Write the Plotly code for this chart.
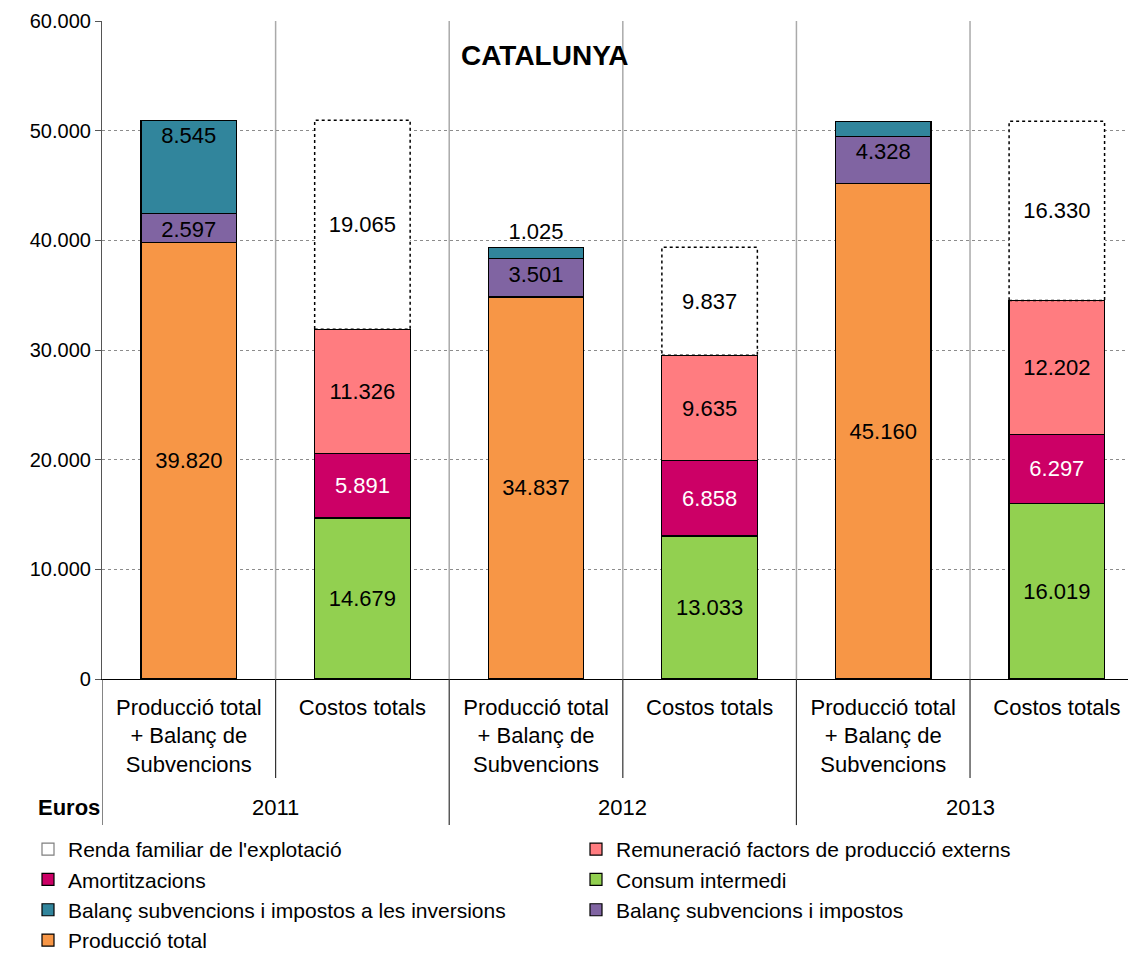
import plotly.graph_objects as go

years = ["2011", "2012", "2013"]
cat_prod = "Producció total<br>+ Balanç de<br>Subvencions"
cat_cost = "Costos totals"

produccio_total = [39820, 34837, 45160]
balanc_subv = [2597, 3501, 4328]
balanc_inv = [8545, 1025, 1360]
inv_label_pos = ["inside", "outside", "none"]

consum_intermedi = [14679, 13033, 16019]
amortitzacions = [5891, 6858, 6297]
remuneracio = [11326, 9635, 12202]
renda_familiar = [19065, 9837, 16330]

FONT = "Liberation Sans, Arial, sans-serif"
BAR_W = 0.55
LBL = 22
W, H = 1128, 946   # page body has an 8px offset in the browser

prod_x = [2 * i for i in range(len(years))]
cost_x = [2 * i + 1 for i in range(len(years))]


def fmt(v):
    return f"{v:,}".replace(",", ".")


fig = go.Figure()


def add_bar(name, xs, ys, color, rank, legend, textcolor="black",
            textpos="inside", anchor="middle", line=True, showlegend=True):
    fig.add_trace(go.Bar(
        name=name, x=xs, y=ys, width=BAR_W,
        marker=dict(color=color,
                    line=dict(color="black", width=1.2 if line else 0)),
        text=[fmt(v) for v in ys], textposition=textpos,
        insidetextanchor=anchor,
        textfont=dict(color=textcolor, size=LBL, family=FONT),
        outsidetextfont=dict(color="black", size=LBL, family=FONT),
        cliponaxis=False, legendrank=rank, showlegend=showlegend,
        legend=legend, hoverinfo="name+y",
    ))


add_bar("Producció total", prod_x, produccio_total, "#F79646", 4, "legend")
add_bar("Consum intermedi", cost_x, consum_intermedi, "#92D050", 2, "legend2")
add_bar("Balanç subvencions i impostos", prod_x, balanc_subv, "#8064A2", 3,
        "legend2", anchor="end")
add_bar("Amortitzacions", cost_x, amortitzacions, "#CC0066", 2, "legend",
        textcolor="white")
add_bar("Balanç subvencions i impostos a les inversions", prod_x, balanc_inv,
        "#31859C", 3, "legend", textpos=inv_label_pos, anchor="end")
add_bar("Remuneració factors de producció externs", cost_x, remuneracio,
        "#FF7C80", 1, "legend2")
add_bar("Renda familiar de l'explotació", cost_x, renda_familiar, "white", 1,
        "legend", line=False, showlegend=False)

# legend-only entry for the dotted "Renda" series
fig.add_trace(go.Bar(
    name="Renda familiar de l'explotació", x=[None], y=[None],
    marker=dict(color="white", line=dict(color="#7f7f7f", width=1.2)),
    legendrank=1, showlegend=True, legend="legend",
))

shapes = []
# dotted outline of the "Renda familiar" segments
for i, cx in enumerate(cost_x):
    base = consum_intermedi[i] + amortitzacions[i] + remuneracio[i]
    shapes.append(dict(type="rect", xref="x", yref="y",
                       x0=cx - BAR_W / 2, x1=cx + BAR_W / 2,
                       y0=base, y1=base + renda_familiar[i],
                       line=dict(color="black", width=1.5, dash="dot"),
                       layer="above"))

# vertical separators inside plot and below axis
n_cat = 2 * len(years)
for k in range(n_cat):
    xb = k + 0.5
    if k < n_cat - 1:
        shapes.append(dict(type="line", xref="x", yref="paper", x0=xb, x1=xb,
                           y0=0, y1=1, line=dict(color="#aaaaaa", width=1.5),
                           layer="below"))
    long = (k % 2 == 1)
    shapes.append(dict(type="line", xref="x", yref="paper", x0=xb, x1=xb,
                       y0=0, y1=-0.222 if long else -0.1505,
                       line=dict(color="#333333", width=1.2)))
shapes.append(dict(type="line", xref="x", yref="paper", x0=-0.5, x1=-0.5,
                   y0=0, y1=-0.222, line=dict(color="#333333", width=1.2)))

annotations = []
for i, yr in enumerate(years):
    annotations.append(dict(x=2 * i + 0.5, y=-0.196, xref="x", yref="paper",
                            yanchor="middle", text=yr, showarrow=False,
                            font=dict(size=22, family=FONT, color="black")))
annotations.append(dict(x=0, y=-0.196, xref="paper", yref="paper",
                        xanchor="right", yanchor="middle",
                        text="<b>Euros</b>", showarrow=False,
                        font=dict(size=22, family=FONT, color="black")))
annotations.append(dict(x=0.4275, y=0.948, xref="paper", yref="paper",
                        yanchor="middle", text="<b>CATALUNYA</b>",
                        showarrow=False,
                        font=dict(size=28, family=FONT, color="black")))

tickvals = []
ticktext = []
for i in range(len(years)):
    tickvals += [prod_x[i], cost_x[i]]
    ticktext += [cat_prod, cat_cost]

# two horizontal legends whose entries are wide enough to wrap one per row
leg_common = dict(orientation="h", xref="container", yref="container",
                  xanchor="left", yanchor="top", y=1 - 821 / H,
                  entrywidth=480, entrywidthmode="pixels",
                  font=dict(size=21, family=FONT, color="black"),
                  traceorder="normal", itemclick=False,
                  bgcolor="rgba(0,0,0,0)")

fig.update_layout(
    width=W, height=H,
    margin=dict(l=94, r=0, t=13, b=275),
    paper_bgcolor="white", plot_bgcolor="white",
    barmode="stack",
    separators=",.",
    font=dict(family=FONT, size=20, color="black"),
    showlegend=True,
    legend=dict(x=20 / W, **leg_common),
    legend2=dict(x=568 / W, **leg_common),
    xaxis=dict(range=[-0.5, 5.456], tickvals=tickvals, ticktext=ticktext,
               showgrid=False, zeroline=False, showline=True,
               linecolor="black", linewidth=1.2, ticks="",
               ticklabelstandoff=8, automargin=False,
               tickfont=dict(size=22, family=FONT, color="black")),
    yaxis=dict(range=[0, 60000], dtick=10000, tickformat=",d",
               showgrid=True, gridcolor="#8c8c8c", griddash="dot",
               gridwidth=1, zeroline=False, showline=True,
               linecolor="#555555", linewidth=1.2, ticks="outside",
               ticklen=6, tickcolor="#555555", automargin=False,
               tickfont=dict(size=20, family=FONT, color="black")),
    shapes=shapes, annotations=annotations,
    uniformtext=dict(minsize=LBL, mode="show"),
)

fig.write_html("out.html")
